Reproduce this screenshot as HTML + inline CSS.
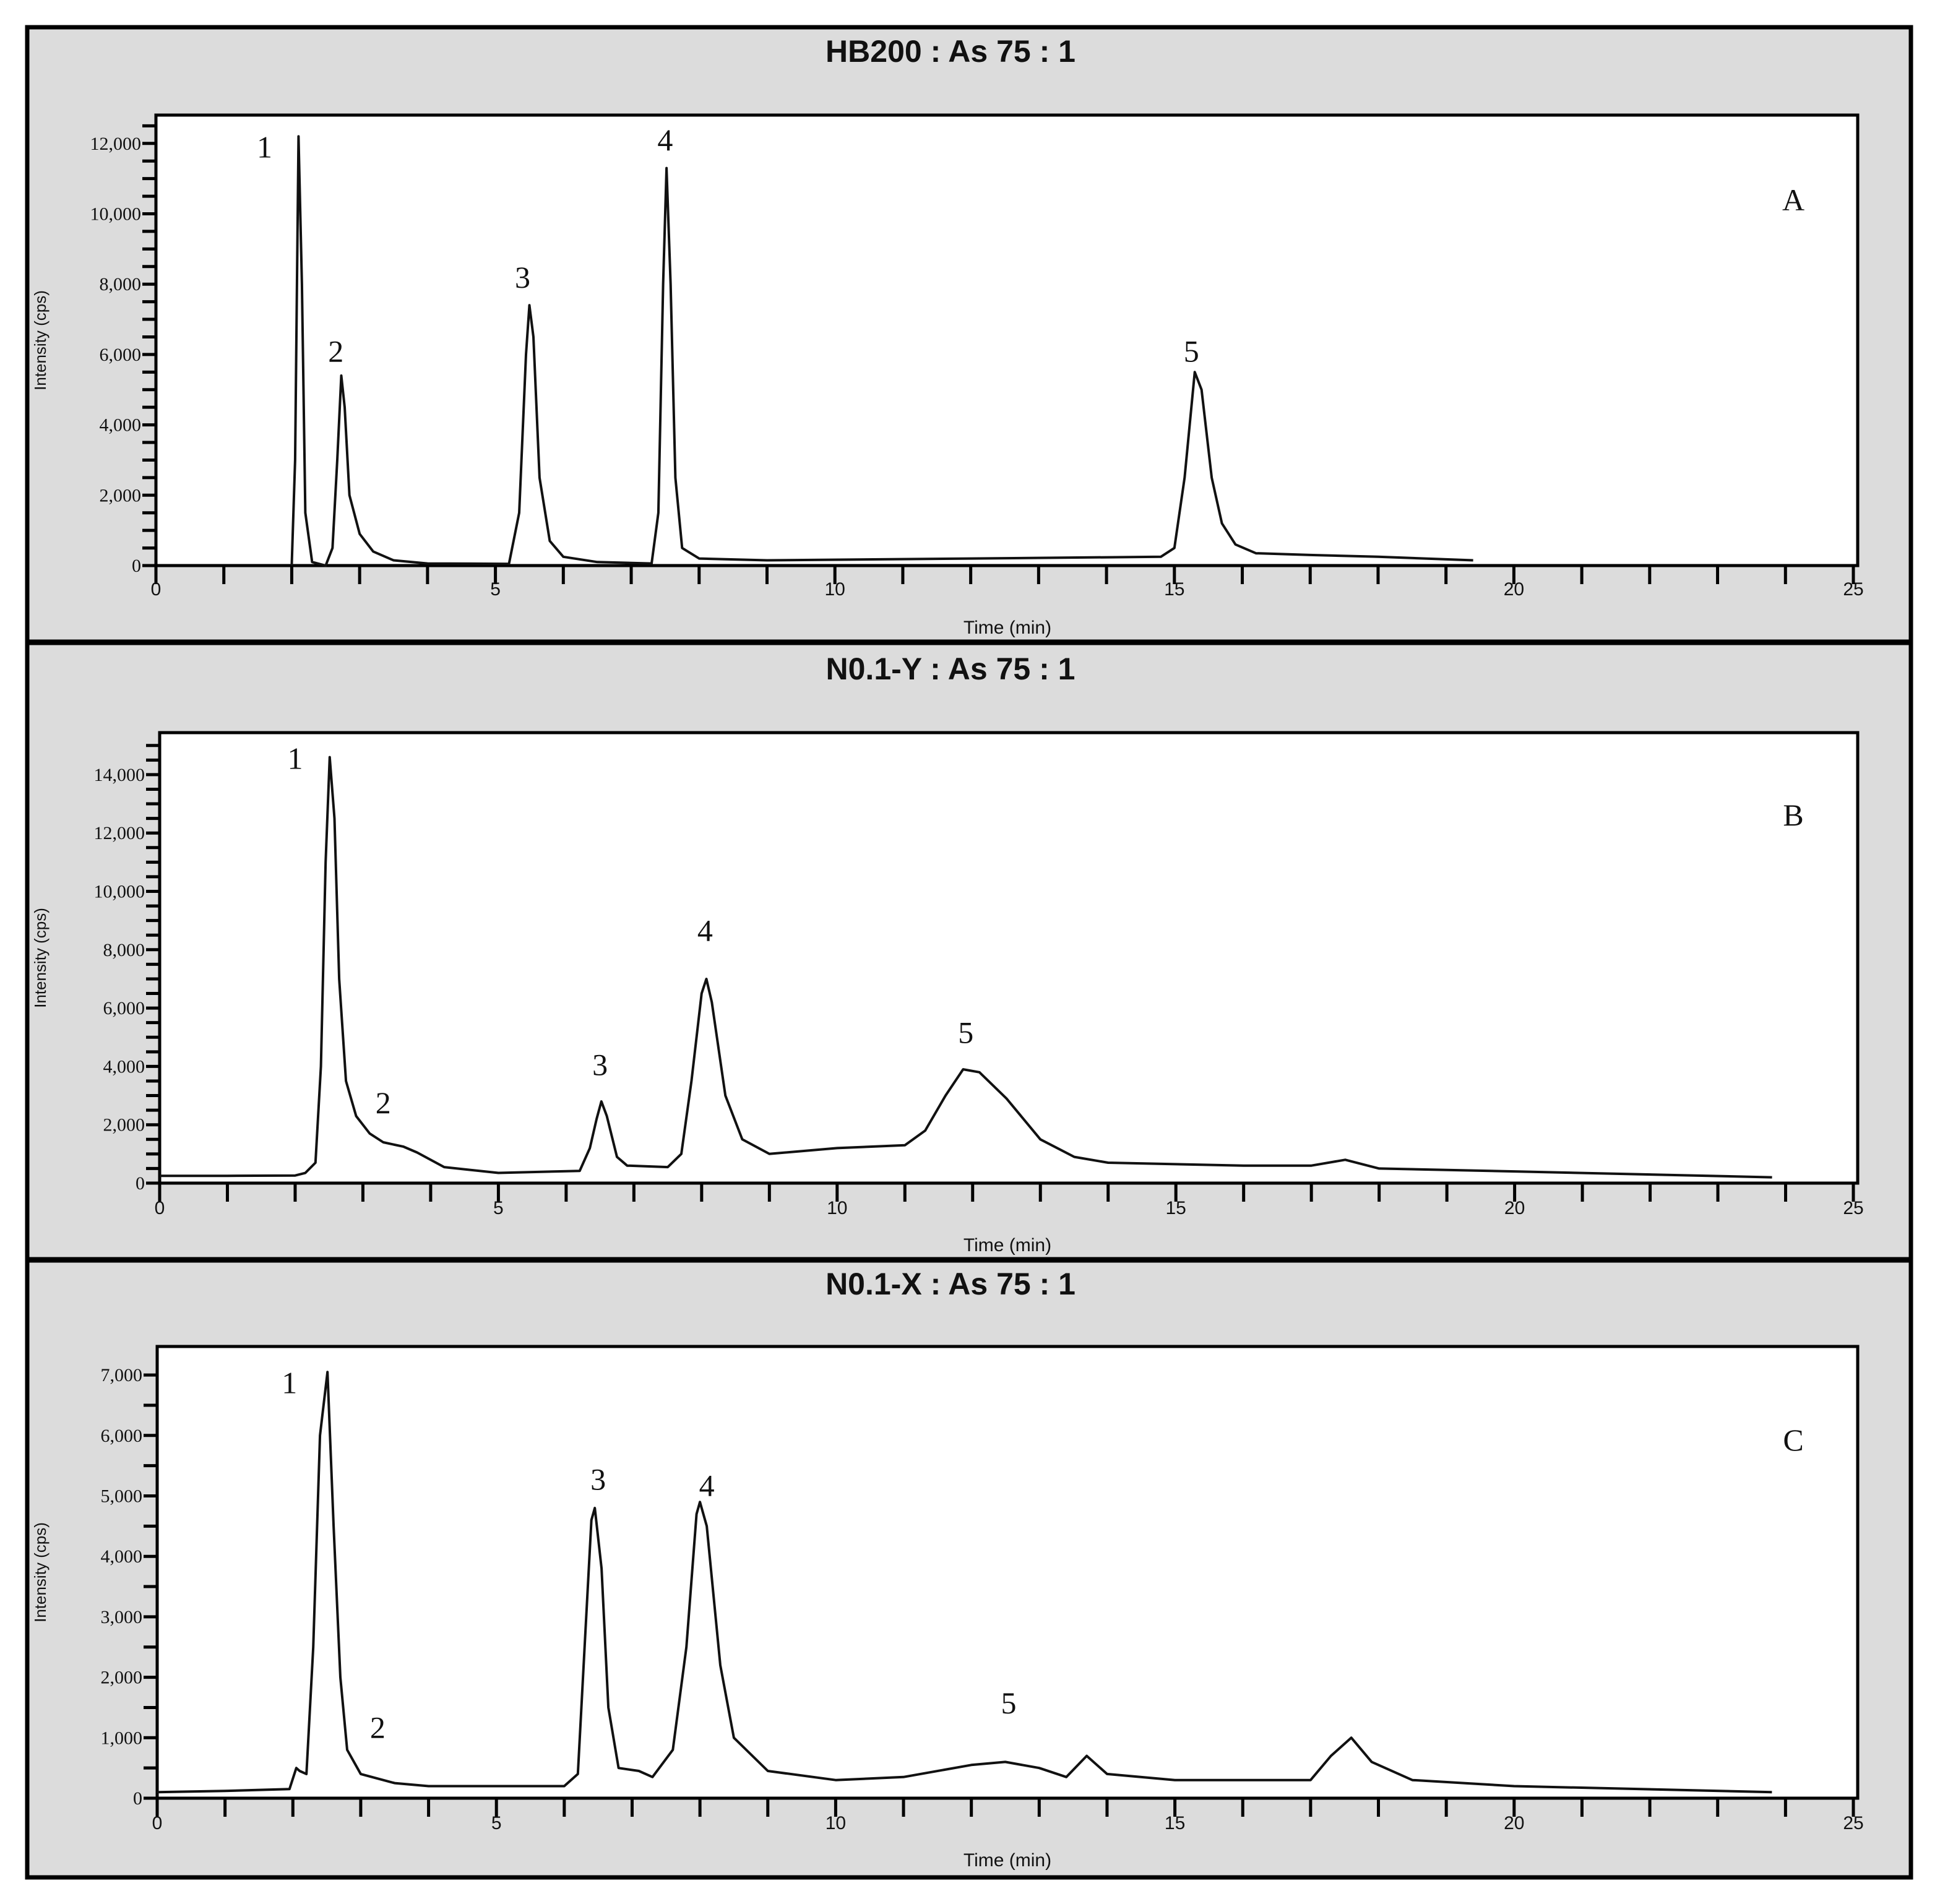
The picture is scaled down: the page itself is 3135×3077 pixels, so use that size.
<!DOCTYPE html>
<html><head><meta charset="utf-8"><style>
html,body{margin:0;padding:0;background:#fff;}
svg{display:block;}
.tl{font-family:"Liberation Serif",serif;font-size:30px;fill:#111;}
.xl{font-family:"Liberation Sans",sans-serif;font-size:30px;fill:#111;}
.tt{font-family:"Liberation Sans",sans-serif;font-size:50px;font-weight:bold;fill:#111;}
.pk{font-family:"Liberation Serif",serif;font-size:50px;fill:#111;}
.yl{font-family:"Liberation Sans",sans-serif;font-size:26px;fill:#111;}
</style></head><body>
<svg id="fig" width="3135" height="3077" viewBox="0 0 3135 3077" xmlns="http://www.w3.org/2000/svg">
<rect x="44" y="44" width="3044" height="2990" fill="#dcdcdc" stroke="#000" stroke-width="7"/>
<line x1="44" y1="1038" x2="3088" y2="1038" stroke="#000" stroke-width="9"/>
<line x1="44" y1="2036" x2="3088" y2="2036" stroke="#000" stroke-width="9"/>
</svg>
<script>
// Panel A data
const timesA = [2.0,2.05,2.1,2.15,2.2,2.3,2.5,2.6,2.67,2.73,2.78,2.85,3.0,3.2,3.5,4.0,5.2,5.35,5.45,5.5,5.56,5.65,5.8,6.0,6.5,7.3,7.4,7.47,7.52,7.58,7.65,7.75,8.0,9,12,14.8,15.0,15.15,15.3,15.4,15.55,15.7,15.9,16.2,17,18,19.4];
const valuesA = [0,3000,12200,8000,1500,100,0,500,3000,5400,4500,2000,900,400,150,60,50,1500,6000,7400,6500,2500,700,250,100,60,1500,8000,11300,8000,2500,500,200,150,200,250,500,2500,5500,5000,2500,1200,600,350,300,250,150];
// Panel B data
const timesB = [0,1,2.0,2.15,2.3,2.38,2.45,2.51,2.58,2.65,2.75,2.9,3.1,3.3,3.6,3.8,4.2,5,6.2,6.35,6.45,6.52,6.6,6.75,6.9,7.5,7.7,7.85,8.0,8.07,8.15,8.35,8.6,9.0,10,11.0,11.3,11.6,11.86,12.1,12.5,13.0,13.5,14,16,17.0,17.5,18,20,23.8];
const valuesB = [250,250,260,350,700,4000,11000,14600,12500,7000,3500,2300,1700,1400,1250,1050,550,350,420,1200,2200,2800,2300,900,600,550,1000,3500,6500,7000,6200,3000,1500,1000,1200,1300,1800,3000,3900,3800,2900,1500,900,700,600,600,800,500,400,200];
// Panel C data
const timesC = [0,1,1.95,2.05,2.1,2.2,2.3,2.4,2.51,2.6,2.7,2.8,3.0,3.5,4,6.0,6.2,6.3,6.4,6.45,6.55,6.65,6.8,7.1,7.3,7.6,7.8,7.95,8.0,8.1,8.3,8.5,9,10,11,12,12.5,13.0,13.4,13.7,14.0,15,17,17.3,17.6,17.9,18.5,20,23.8];
const valuesC = [100,120,150,500,450,400,2500,6000,7050,4500,2000,800,400,250,200,200,400,2500,4600,4800,3800,1500,500,450,350,800,2500,4700,4900,4500,2200,1000,450,300,350,550,600,500,350,700,400,300,300,700,1000,600,300,200,100];
// Tick labels
const xTickLabels = ["0","5","10","15","20","25"];
const yTickLabelsA = ["0","2,000","4,000","6,000","8,000","10,000","12,000"];
const yTickLabelsB = ["0","2,000","4,000","6,000","8,000","10,000","12,000","14,000"];
const yTickLabelsC = ["0","1,000","2,000","3,000","4,000","5,000","6,000","7,000"];
const peakNames = ["1","2","3","4","5"];
const peakLabelXA = [1.6,2.65,5.4,7.5,15.25];
const peakLabelYA = [11600,5800,7900,11800,5800];
const peakLabelXB = [2.0,3.3,6.5,8.05,11.9];
const peakLabelYB = [14200,2400,3700,8300,4800];
const peakLabelXC = [1.95,3.25,6.5,8.1,12.55];
const peakLabelYC = [6700,1000,5100,5000,1400];

const NS="http://www.w3.org/2000/svg";
const svg=document.getElementById('fig');
function mk(tag,attrs,parent){const e=document.createElementNS(NS,tag);for(const k in attrs)e.setAttribute(k,attrs[k]);(parent||svg).appendChild(e);return e;}

const panels=[
 {key:'a',title:'HB200 : As 75 : 1',letter:'A',titleY:100,top:186,bottom:914,x0:252,x25:2995,yPer:113.7/2000,yMajor:2000,yMaxTick:12500,labels:yTickLabelsA,t:timesA,v:valuesA,px:peakLabelXA,py:peakLabelYA,letterY:340,xlY:962,tlY:1024},
 {key:'b',title:'N0.1-Y : As 75 : 1',letter:'B',titleY:1098,top:1184,bottom:1912,x0:258,x25:2995,yPer:94.3/2000,yMajor:2000,yMaxTick:15000,labels:yTickLabelsB,t:timesB,v:valuesB,px:peakLabelXB,py:peakLabelYB,letterY:1334,xlY:1962,tlY:2022},
 {key:'c',title:'N0.1-X : As 75 : 1',letter:'C',titleY:2092,top:2176,bottom:2906,x0:254,x25:2995,yPer:97.7/1000,yMajor:1000,yMaxTick:7000,labels:yTickLabelsC,t:timesC,v:valuesC,px:peakLabelXC,py:peakLabelYC,letterY:2344,xlY:2956,tlY:3016}
];

panels.forEach(p=>{
 const g=mk('g',{});
 
 
 const xs=t=>p.x0+(p.x25-p.x0)*t/25;
 const ys=v=>p.bottom-v*p.yPer;
 const plot=mk('rect',{x:p.x0,y:p.top,width:3002-p.x0,height:p.bottom-p.top,fill:'#fff',stroke:'#000','stroke-width':5},g);
 
 
 const tt=mk('text',{x:1536,y:p.titleY,'text-anchor':'middle',class:'tt'},g);
 tt.textContent=p.title;
 
 
 for(let v=0;v<=p.yMaxTick+1e-6;v+=500){
   const y=ys(v); if(y<p.top-2) continue;
   const tk=mk('line',{x1:p.x0-22,y1:y,x2:p.x0,y2:y,stroke:'#000','stroke-width':5},g);
   
   
 }
 p.labels.forEach((lab,i)=>{
   const y=ys(i*p.yMajor);
   const t=mk('text',{x:p.x0-24,y:y+10,'text-anchor':'end',class:'tl'},g);
   t.textContent=lab;
   
   
 });
 for(let m=0;m<=25;m++){
   const x=xs(m);
   const tk=mk('line',{x1:x,y1:p.bottom,x2:x,y2:p.bottom+30,stroke:'#000','stroke-width':5},g);
   
   
 }
 xTickLabels.forEach((lab,i)=>{
   const t=mk('text',{x:xs(i*5),y:p.xlY,'text-anchor':'middle',class:'xl'},g);
   t.textContent=lab;
   
   
 });
 const xt=mk('text',{x:1628,y:p.tlY,'text-anchor':'middle',class:'xl'},g);
 xt.textContent='Time (min)';
 
 
 const cy=(p.top+p.bottom)/2;
 const yt=mk('text',{x:74,y:cy,'text-anchor':'middle',class:'yl',transform:'rotate(-90 74 '+cy+')'},g);
 yt.textContent='Intensity (cps)';
 
 
 const pts=p.t.map((t,i)=>xs(t).toFixed(1)+','+ys(p.v[i]).toFixed(1)).join(' ');
 const pl=mk('polyline',{points:pts,fill:'none',stroke:'#111','stroke-width':4,'stroke-linejoin':'round'},g);
 
 
 peakNames.forEach((n,i)=>{
   const t=mk('text',{x:xs(p.px[i]),y:ys(p.py[i]),'text-anchor':'middle',class:'pk'},g);
   t.textContent=n;
   
   
 });
 const L=mk('text',{x:2898,y:p.letterY,'text-anchor':'middle',class:'pk'},g);
 L.textContent=p.letter;
 
 
});
</script>
</body></html>
